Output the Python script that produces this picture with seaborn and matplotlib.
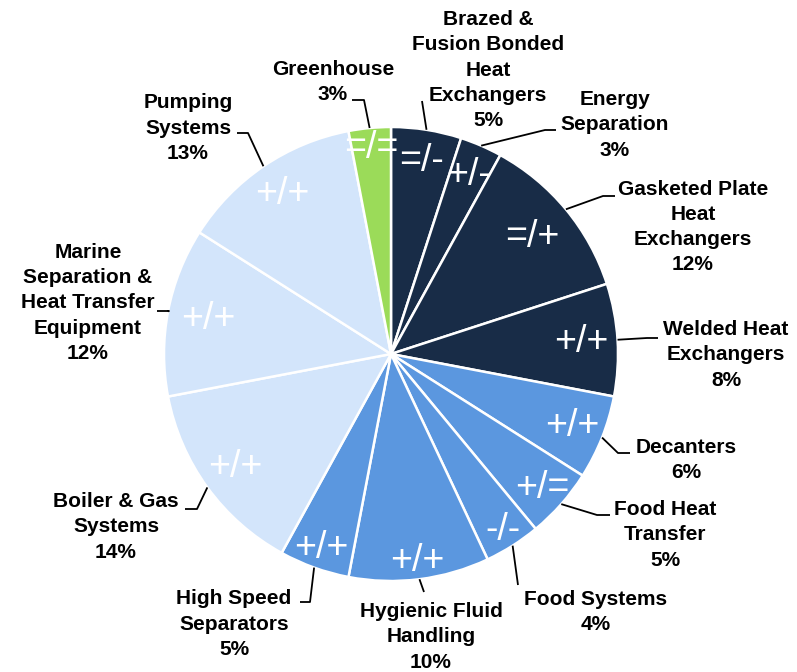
import numpy as np
import matplotlib
matplotlib.use("Agg")
import matplotlib.pyplot as plt
import seaborn as sns

# segment shares of sales, clockwise from 12 o'clock
segments = ["Brazed &\nFusion Bonded\nHeat\nExchangers", "Energy\nSeparation",
            "Gasketed Plate\nHeat\nExchangers", "Welded Heat\nExchangers", "Decanters",
            "Food Heat\nTransfer", "Food Systems", "Hygienic Fluid\nHandling",
            "High Speed\nSeparators", "Boiler & Gas\nSystems",
            "Marine\nSeparation &\nHeat Transfer\nEquipment", "Pumping\nSystems", "Greenhouse"]
shares = [5, 3, 12, 8, 6, 5, 4, 10, 5, 14, 12, 13, 3]
outlook = ["=/-", "+/-", "=/+", "+/+", "+/+", "+/=", "-/-", "+/+", "+/+", "+/+", "+/+", "+/+", "=/="]
division = ["Energy", "Energy", "Energy", "Energy", "Food", "Food", "Food", "Food", "Food",
            "Marine", "Marine", "Marine", "Greenhouse"]

sns.set_theme(style="white")
plt.rcParams["font.family"] = ["Liberation Sans", "DejaVu Sans"]

palette = {"Energy": "#182c47", "Food": "#5b97df", "Marine": "#d3e5fb", "Greenhouse": "#9bdb59"}
colors = [palette[d] for d in division]

# layout (pixel units, y down)
cx, cy, R = 391, 354, 227
label_pos = [(488, 70), (615, 125), (693, 227), (726, 355), (686, 460), (665, 535),
             (596, 612), (431, 637), (234, 624), (116, 527), (88, 303), (188, 128), (333, 82)]
leader = [[(422, 101)],
          [(545, 130), (556, 130)],
          [(603, 196), (615, 196)],
          [(647, 338), (658, 338)],
          [(618, 453), (630, 453)],
          [(597, 515), (610, 515)],
          [(518, 585)],
          [(424, 592)],
          [(310, 602), (300, 602)],
          [(197, 509), (185, 509)],
          [(169, 311), (157, 311)],
          [(248, 133), (237, 133)],
          [(364, 100), (352, 100)]]
inner_r = [0.86, 0.86, 0.81, 0.84, 0.86, 0.89, 0.92, 0.92, 0.91, 0.85, 0.82, 0.85, 0.91]

fig = plt.figure(figsize=(7.97, 6.72), dpi=100)
ax = fig.add_axes([0, 0, 1, 1])
wedges, _ = ax.pie(shares, colors=colors, startangle=-90, counterclock=True,
                   center=(cx, cy), radius=R,
                   wedgeprops=dict(edgecolor="white", linewidth=1.8))
ax.set_xlim(0, 797)
ax.set_ylim(672, 0)
ax.set_aspect("equal")
ax.axis("off")

for w, name, pct, sign, pos, pts, ir in zip(wedges, segments, shares, outlook,
                                             label_pos, leader, inner_r):
    mid = np.deg2rad((w.theta1 + w.theta2) / 2)
    ex, ey = cx + R * np.cos(mid), cy + R * np.sin(mid)
    xs = [ex] + [p[0] for p in pts]
    ys = [ey] + [p[1] for p in pts]
    ax.plot(xs, ys, color="black", lw=1.3, solid_capstyle="butt")
    ax.text(pos[0], pos[1], f"{name}\n{pct}%", ha="center", va="center",
            fontsize=15, fontweight="bold", linespacing=1.42, color="black")
    ax.text(cx + ir * R * np.cos(mid), cy + ir * R * np.sin(mid), sign,
            ha="center", va="center", fontsize=27, color="white")

fig.savefig("out.png", dpi=100)
